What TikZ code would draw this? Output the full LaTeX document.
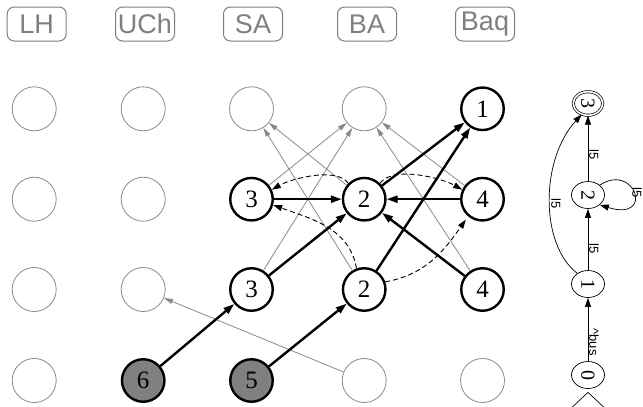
\documentclass[tikz,border=0pt]{standalone}
\usepackage{fontspec}
\usepackage{graphicx}
\setmainfont{Liberation Serif}
\setsansfont{Liberation Sans}
\usetikzlibrary{arrows.meta,shapes.geometric}
\definecolor{gc}{HTML}{8A8A8A}
\definecolor{lc}{HTML}{7F7F7F}
\definecolor{fillg}{HTML}{808080}
\begin{document}
\begin{tikzpicture}[x=1pt,y=1pt,
  hdr/.style={draw=lc, text=lc, rounded corners=7pt, minimum width=59pt, minimum height=34pt, inner sep=0pt, line width=1pt, font=\sffamily\fontsize{27}{27}\selectfont},
  gnode/.style={circle, draw=gc, line width=0.8pt, minimum size=44pt, inner sep=0pt},
  bnode/.style={circle, draw=black, line width=2.4pt, minimum size=42.5pt, inner sep=0pt, font=\fontsize{25}{25}\selectfont},
  fnode/.style={bnode, fill=fillg},
  tarr/.style={line width=2.4pt, -{Triangle[length=11pt,width=7pt]}},
  garr/.style={draw=gc, line width=0.8pt, -{Triangle[length=9pt,width=5pt]}},
  darr/.style={line width=0.9pt, dash pattern=on 5pt off 3pt, -{Triangle[length=9pt,width=6pt]}},
  st/.style={ellipse, draw, line width=0.7pt, minimum width=33pt, minimum height=27pt, inner sep=0pt, font=\fontsize{20}{20}\selectfont},
  aarr/.style={line width=0.7pt, -{Triangle[length=9pt,width=6pt]}},
  albl/.style={font=\sffamily\fontsize{13}{13}\selectfont, rotate=-90, inner sep=1pt}
]
\useasboundingbox (0,0) rectangle (643,-407);

% headers
\node[hdr] (hLH) at (36.7,-24) {LH};
\node[hdr] (hUCh) at (145,-24) {UCh};
\node[hdr] (hSA) at (253,-24) {SA};
\node[hdr] (hBA) at (367,-24) {BA};
\node[hdr] (hBaq) at (485,-24) {Baq};

% row 1
\node[gnode] (g11) at (34.2,-108.8) {};
\node[gnode] (g12) at (143.2,-108.8) {};
\node[gnode] (g13) at (251.5,-108.8) {};
\node[gnode] (g14) at (364.2,-108.8) {};
\node[bnode] (n15) at (482.5,-108.8) {1};
% row 2
\node[gnode] (g21) at (34.2,-199.2) {};
\node[gnode] (g22) at (143.2,-199.2) {};
\node[bnode] (n23) at (251.5,-199.2) {3};
\node[bnode] (n24) at (364.2,-199.2) {2};
\node[bnode] (n25) at (482.5,-199.2) {4};
% row 3
\node[gnode] (g31) at (34.2,-289.5) {};
\node[gnode] (g32) at (143.2,-289.5) {};
\node[bnode] (n33) at (251.5,-289.5) {3};
\node[bnode] (n34) at (364.2,-289.5) {2};
\node[bnode] (n35) at (482.5,-289.5) {4};
% row 4
\node[gnode] (g41) at (34.2,-380.5) {};
\node[fnode] (f42) at (143.2,-380.5) {6};
\node[fnode] (f43) at (251.5,-380.5) {5};
\node[gnode] (g44) at (364.2,-380.5) {};
\node[gnode] (g45) at (482.5,-380.5) {};

% gray arrows
\draw[garr] (n23) -- (g14);
\draw[garr] (n24) -- (g13);
\draw[garr] (n34) -- (g13);
\draw[garr] (n33) -- (g14);
\draw[garr] (n25) -- (g14);
\draw[garr] (n35) -- (g14);
\draw[garr] (g44) -- (g32);

% dashed arrows
\draw[darr] (n24.135) to[out=125,in=30,looseness=0.7] (n23.25);
\draw[darr] (n24.45) to[out=55,in=150,looseness=0.7] (n25.155);
\draw[darr] (n34.110) to[out=100,in=-20] (n23.-15);
\draw[darr, shorten >=4pt] (n34.20) to[out=10,in=-125] (n25.230);

% thick arrows
\draw[tarr] (f42) -- (n33);
\draw[tarr] (f43) -- (n34);
\draw[tarr] (n33) -- (n24);
\draw[tarr] (n23) -- (n24);
\draw[tarr] (n25) -- (n24);
\draw[tarr] (n35) -- (n24);
\draw[tarr] (n24) -- (n15);
\draw[tarr] (n34) -- (n15);

% automaton
\node[st] (s0) at (588,-375) {\rotatebox{-90}{0}};
\node[st] (s1) at (588,-284) {\rotatebox{-90}{1}};
\node[st] (s2) at (588,-195) {\rotatebox{-90}{2}};
\node[st, double, double distance=1.6pt, minimum width=29.5pt, minimum height=23.5pt] (s3) at (588,-103.5) {\rotatebox{-90}{3}};
\coordinate (ini) at (588,-440);
\draw[line width=0.7pt, -{Triangle[open,length=16pt,width=34pt]}, shorten >=3pt] (ini) -- (s0);
\draw[aarr] (s0) -- node[albl, anchor=south, pos=0.3] {\textasciicircum{}bus} (s1);
\draw[aarr] (s1) -- node[albl, anchor=south, pos=0.35] {l5} (s2);
\draw[aarr] (s2) -- node[albl, anchor=south, pos=0.4] {l5} (s3);
\draw[aarr] (s2.40) .. controls (635,-162) and (655,-222) .. (s2.-40);
\node[albl] (lloop) at (637,-193) {l5};
\draw[aarr] (s1.135) .. controls (540,-245) and (540,-160) .. node[albl, anchor=south, pos=0.48] {l5} (s3.240);
\end{tikzpicture}
\end{document}
